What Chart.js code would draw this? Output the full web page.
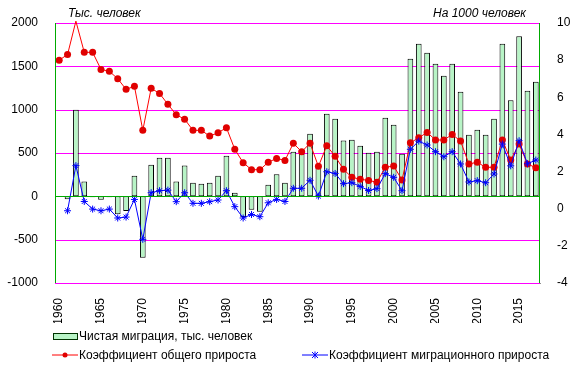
<!DOCTYPE html>
<html>
<head>
<meta charset="utf-8">
<script src="https://cdn.jsdelivr.net/npm/chart.js@4.4.1/dist/chart.umd.min.js"></script>
<style>
  body { margin: 0; background: #fff; font-family: "Liberation Sans", Arial, sans-serif; }
  #wrap { position: relative; width: 578px; height: 371px; }
  #chart { position: absolute; left: 0; top: 0; }
  .lbl { position: absolute; font-size: 12px; color: #000; white-space: nowrap; line-height: 14px; }
  .unit { font-style: italic; }
</style>
</head>
<body>
<div id="wrap">
  <canvas id="chart" width="578" height="371"></canvas>
  <span class="lbl unit" style="left:68px; top:6px;">Тыс. человек</span>
  <span class="lbl unit" style="left:433px; top:6px;">На 1000 человек</span>

  <div style="position:absolute; left:53px; top:333px; width:23px; height:5px; background:#b8f4c6; border:1px solid #003300;"></div>
  <span class="lbl" style="left:79px; top:329px;">Чистая миграция, тыс. человек</span>

  <svg style="position:absolute; left:52px; top:350px;" width="26" height="10">
    <line x1="0" y1="5" x2="26" y2="5" stroke="#ff0000" stroke-width="1"/>
    <circle cx="13" cy="5" r="2.5" fill="#e00000"/>
  </svg>
  <span class="lbl" style="left:79px; top:348px;">Коэффициент общего прироста</span>

  <svg style="position:absolute; left:302px; top:350px;" width="26" height="10">
    <line x1="0" y1="5" x2="26" y2="5" stroke="#0000ff" stroke-width="1"/>
    <path d="M10 2 L16 8 M16 2 L10 8 M13 1.5 L13 8.5" stroke="#0000ff" stroke-width="1"/>
  </svg>
  <span class="lbl" style="left:329px; top:348px;">Коэффициент миграционного прироста</span>
</div>
<script>
(function () {
  "use strict";

  // data
  const years = [
    "1960", "1961", "1962", "1963", "1964", "1965", "1966", "1967", "1968", "1969",
    "1970", "1971", "1972", "1973", "1974", "1975", "1976", "1977", "1978", "1979",
    "1980", "1981", "1982", "1983", "1984", "1985", "1986", "1987", "1988", "1989",
    "1990", "1991", "1992", "1993", "1994", "1995", "1996", "1997", "1998", "1999",
    "2000", "2001", "2002", "2003", "2004", "2005", "2006", "2007", "2008", "2009",
    "2010", "2011", "2012", "2013", "2014", "2015", "2016", "2017"
  ];

  // чистая миграция, тыс. человек
  const netMigration = [
    null, -35, 1000, 170, -10, -38, -10, -208, -170, 238,
    -708, 365, 446, 446, 170, 356, 158, 146, 158, 238,
    469, 42, -238, -154, -177, 135, 254, 158, 515, 492,
    723, 340, 954, 896, 644, 654, 585, 504, 515, 908,
    827, 492, 1588, 1762, 1658, 1531, 1392, 1531, 1208, 712,
    769, 712, 896, 1762, 1108, 1846, 1219, 1323
  ];

  // коэффициент общего прироста, на 1000
  const totalGrowth = [
    8.0, 8.3, 10.1, 8.42, 8.42, 7.5, 7.4, 7.0, 6.43, 6.59,
    4.22, 6.48, 6.21, 5.62, 5.06, 4.82, 4.22, 4.22, 3.91, 4.09,
    4.36, 3.2, 2.48, 2.1, 2.1, 2.5, 2.71, 2.6, 3.52, 3.07,
    3.52, 2.28, 3.39, 2.82, 2.12, 1.69, 1.59, 1.52, 1.43, 2.23,
    2.3, 1.55, 3.55, 3.82, 4.11, 3.7, 3.7, 4.0, 3.64, 2.41,
    2.5, 2.23, 2.23, 3.7, 2.62, 3.48, 2.41, 2.21
  ];

  // коэффициент миграционного прироста, на 1000
  const migrationGrowth = [
    null, -0.11, 2.32, 0.39, -0.02, -0.11, -0.02, -0.5, -0.45, 0.5,
    -1.65, 0.86, 0.97, 1.0, 0.38, 0.86, 0.29, 0.29, 0.38, 0.47,
    0.97, 0.11, -0.5, -0.31, -0.43, 0.32, 0.5, 0.39, 1.1, 1.1,
    1.53, 0.68, 1.99, 1.9, 1.35, 1.4, 1.2, 0.98, 1.08, 1.89,
    1.69, 0.97, 3.2, 3.64, 3.43, 3.07, 2.8, 3.07, 2.41, 1.44,
    1.51, 1.4, 1.87, 3.48, 2.31, 3.66, 2.42, 2.62
  ];

  const leftTicks = [-1000, -500, 0, 500, 1000, 1500, 2000];
  const rightTicks = [-4, -2, 0, 2, 4, 6, 8, 10];

  const tickFont = { family: '"Liberation Sans", Arial, sans-serif', size: 12 };

  // сетка за столбцами, нулевая линия и оси поверх
  const frame = {
    id: "frame",
    beforeDatasetsDraw(chart) {
      const { ctx, chartArea: a, scales } = chart;
      ctx.save();
      ctx.lineWidth = 1;
      ctx.strokeStyle = "#ff00ff";
      leftTicks.forEach((v) => {
        const py = Math.round(scales.y.getPixelForValue(v)) + 0.5;
        ctx.beginPath(); ctx.moveTo(a.left, py); ctx.lineTo(a.right, py); ctx.stroke();
      });
      ctx.restore();
    },
    afterDraw(chart) {
      const { ctx, chartArea: a, scales } = chart;
      ctx.save();
      ctx.lineWidth = 1;
      ctx.strokeStyle = "#00aa00";
      const y0 = Math.round(scales.y.getPixelForValue(0)) + 0.5;
      ctx.beginPath(); ctx.moveTo(a.left, y0); ctx.lineTo(a.right, y0); ctx.stroke();
      const xl = Math.round(a.left) + 0.5;
      const xr = Math.round(a.right) - 0.5;
      ctx.beginPath(); ctx.moveTo(xl, a.top); ctx.lineTo(xl, a.bottom); ctx.stroke();
      ctx.beginPath(); ctx.moveTo(xr, a.top); ctx.lineTo(xr, a.bottom); ctx.stroke();
      ctx.restore();
    },
  };

  const ctx = document.getElementById("chart");

  new Chart(ctx, {
    type: "bar",
    plugins: [frame],
    data: {
      labels: years,
      datasets: [
        {
          type: "line",
          label: "Коэффициент миграционного прироста",
          data: migrationGrowth,
          yAxisID: "y1",
          borderColor: "#0000ff",
          borderWidth: 1,
          pointStyle: "star",
          pointRadius: 3.5,
          pointBorderColor: "#0000ff",
          pointBorderWidth: 1,
          order: 1,
        },
        {
          type: "line",
          label: "Коэффициент общего прироста",
          data: totalGrowth,
          yAxisID: "y1",
          borderColor: "#ff0000",
          borderWidth: 1,
          pointRadius: totalGrowth.map((v) => (v > 10 ? 0 : 3.5)),
          pointBackgroundColor: "#e00000",
          pointBorderColor: "#e00000",
          pointBorderWidth: 0,
          clip: false,
          order: 2,
        },
        {
          label: "Чистая миграция, тыс. человек",
          data: netMigration,
          yAxisID: "y",
          backgroundColor: "#b8f4c6",
          borderColor: "#000000",
          borderWidth: 1,
          borderSkipped: false,
          categoryPercentage: 1,
          barPercentage: 0.68,
          order: 3,
        },
      ],
    },
    options: {
      responsive: false,
      devicePixelRatio: 1,
      animation: false,
      layout: {
        padding: { top: 23, bottom: 48 },
      },
      plugins: {
        legend: { display: false },
        tooltip: { enabled: false },
      },
      scales: {
        x: {
          offset: true,
          grid: { display: false },
          border: { color: "#909090" },
          ticks: {
            color: "#000",
            font: tickFont,
            autoSkip: false,
            maxRotation: 90,
            minRotation: 90,
            padding: 7,
            callback: (v, i) => (Number(years[i]) % 5 === 0 ? years[i] : ""),
          },
          afterFit: (s) => { s.height = 40; },
        },
        y: {
          position: "left",
          min: leftTicks[0],
          max: leftTicks[leftTicks.length - 1],
          grid: { display: false },
          border: { display: false },
          ticks: {
            color: "#000",
            font: tickFont,
            stepSize: leftTicks[1] - leftTicks[0],
            padding: 9,
            callback: (v) => String(v),
          },
          afterFit: (s) => { s.width = 55; },
        },
        y1: {
          position: "right",
          min: rightTicks[0],
          max: rightTicks[rightTicks.length - 1],
          grid: { display: false },
          border: { display: false },
          ticks: {
            color: "#000",
            font: tickFont,
            stepSize: rightTicks[1] - rightTicks[0],
            padding: 9,
            callback: (v) => String(v),
          },
          afterFit: (s) => { s.width = 38; },
        },
      },
    },
  });
})();
</script>
</body>
</html>
